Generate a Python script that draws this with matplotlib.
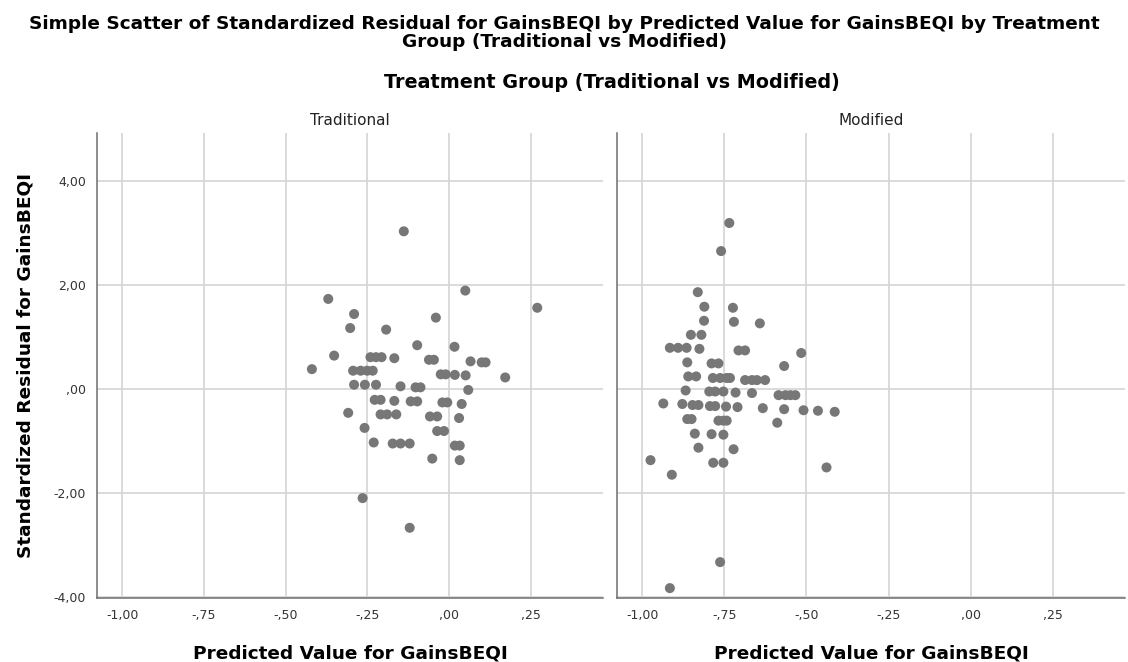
import matplotlib
matplotlib.use("Agg")
import matplotlib.pyplot as plt
from matplotlib.ticker import FuncFormatter

# Traditional group: predicted value vs standardized residual
trad_x = [-0.139, 0.049, -0.370, 0.269, -0.291, -0.041, -0.303, -0.193, -0.098, 0.016,
          -0.352, -0.241, -0.224, -0.207, -0.168, -0.062, -0.047, 0.065, 0.099, 0.111,
          -0.420, -0.294, -0.271, -0.251, -0.234, -0.026, -0.011, 0.017, 0.050, 0.171,
          -0.291, -0.258, -0.224, -0.149, -0.103, -0.088, 0.058, -0.228, -0.210, -0.168,
          -0.118, -0.098, -0.021, -0.006, 0.038, -0.309, -0.210, -0.190, -0.162, -0.059,
          -0.037, 0.030, -0.259, -0.037, -0.016, -0.231, -0.173, -0.149, -0.121, 0.017,
          0.032, -0.052, 0.032, -0.265, -0.121]
trad_y = [3.03, 1.89, 1.73, 1.56, 1.44, 1.37, 1.17, 1.14, 0.84, 0.81,
          0.64, 0.61, 0.61, 0.61, 0.59, 0.56, 0.56, 0.53, 0.51, 0.51,
          0.38, 0.35, 0.35, 0.35, 0.35, 0.28, 0.28, 0.27, 0.26, 0.22,
          0.08, 0.08, 0.08, 0.05, 0.03, 0.03, -0.02, -0.21, -0.21, -0.23,
          -0.24, -0.24, -0.26, -0.26, -0.29, -0.46, -0.49, -0.49, -0.49, -0.53,
          -0.53, -0.56, -0.75, -0.81, -0.81, -1.03, -1.05, -1.05, -1.05, -1.09,
          -1.09, -1.34, -1.37, -2.10, -2.67]

# Modified group
mod_x = [-0.735, -0.760, -0.831, -0.811, -0.724, -0.812, -0.721, -0.642, -0.852, -0.820,
         -0.916, -0.891, -0.865, -0.826, -0.707, -0.687, -0.516, -0.863, -0.789, -0.768,
         -0.568, -0.860, -0.836, -0.785, -0.763, -0.743, -0.733, -0.687, -0.666, -0.651,
         -0.626, -0.868, -0.796, -0.778, -0.753, -0.716, -0.666, -0.585, -0.564, -0.549,
         -0.534, -0.936, -0.878, -0.847, -0.829, -0.794, -0.778, -0.745, -0.710, -0.633,
         -0.568, -0.509, -0.465, -0.414, -0.863, -0.850, -0.768, -0.753, -0.743, -0.589,
         -0.840, -0.789, -0.753, -0.829, -0.722, -0.975, -0.784, -0.753, -0.439, -0.910,
         -0.763, -0.916]
mod_y = [3.19, 2.65, 1.86, 1.58, 1.56, 1.31, 1.29, 1.26, 1.04, 1.04,
         0.79, 0.79, 0.79, 0.77, 0.74, 0.74, 0.69, 0.51, 0.49, 0.49,
         0.44, 0.24, 0.24, 0.21, 0.21, 0.21, 0.21, 0.17, 0.17, 0.17,
         0.17, -0.03, -0.05, -0.05, -0.05, -0.07, -0.08, -0.12, -0.12, -0.12,
         -0.12, -0.28, -0.29, -0.31, -0.31, -0.33, -0.33, -0.34, -0.35, -0.37,
         -0.39, -0.41, -0.42, -0.44, -0.58, -0.58, -0.61, -0.61, -0.61, -0.65,
         -0.86, -0.87, -0.88, -1.13, -1.16, -1.37, -1.42, -1.42, -1.51, -1.65,
         -3.33, -3.83]

panels = ["Traditional", "Modified"]
x_ticks = [-1.0, -0.75, -0.5, -0.25, 0.0, 0.25]
y_ticks = [-4, -2, 0, 2, 4]


def spss_fmt(v, pos=None):
    s = f"{abs(v):.2f}".replace(".", ",")
    if s.startswith("0"):
        s = s[1:]
    return ("-" if v < -1e-9 else "") + s


fig = plt.figure(figsize=(11.28, 6.62), dpi=100)
ax1 = fig.add_axes([97 / 1128, 1 - 598 / 662, 506 / 1128, 465 / 662])
ax2 = fig.add_axes([617 / 1128, 1 - 598 / 662, 508 / 1128, 465 / 662])

for ax, xs, ys, name in [(ax1, trad_x, trad_y, panels[0]), (ax2, mod_x, mod_y, panels[1])]:
    ax.set_xlim(-1.077, 0.47)
    ax.set_ylim(-4.02, 4.92)
    ax.set_xticks(x_ticks)
    ax.set_yticks(y_ticks)
    ax.grid(True, color="#d4d4d4", linewidth=1.2)
    ax.set_axisbelow(True)
    ax.scatter(xs, ys, s=52, color="#777777", edgecolors="none", zorder=3)
    for side in ["top", "right"]:
        ax.spines[side].set_visible(False)
    for side in ["left", "bottom"]:
        ax.spines[side].set_color("#6e6e6e")
        ax.spines[side].set_linewidth(1.1)
    ax.tick_params(length=0, labelsize=9, colors="#333333", pad=8)
    ax.xaxis.set_major_formatter(FuncFormatter(spss_fmt))
    ax.yaxis.set_major_formatter(FuncFormatter(spss_fmt))
    ax.set_title(name, fontsize=11, color="#222222", pad=6)
    ax.set_xlabel("Predicted Value for GainsBEQI", fontsize=13.3, fontweight="bold", labelpad=16)

ax2.tick_params(labelleft=False)
ax1.set_ylabel("Standardized Residual for GainsBEQI", fontsize=13.3, fontweight="bold", labelpad=14)

fig.text(0.5, 1 - 33 / 662,
         "Simple Scatter of Standardized Residual for GainsBEQI by Predicted Value for GainsBEQI by Treatment\nGroup (Traditional vs Modified)",
         ha="center", va="center", fontsize=13.3, fontweight="bold", linespacing=1.0)
fig.text(612 / 1128, 1 - 82 / 662, "Treatment Group (Traditional vs Modified)",
         ha="center", va="center", fontsize=13.8, fontweight="bold")

fig.savefig("out.png", dpi=100)
